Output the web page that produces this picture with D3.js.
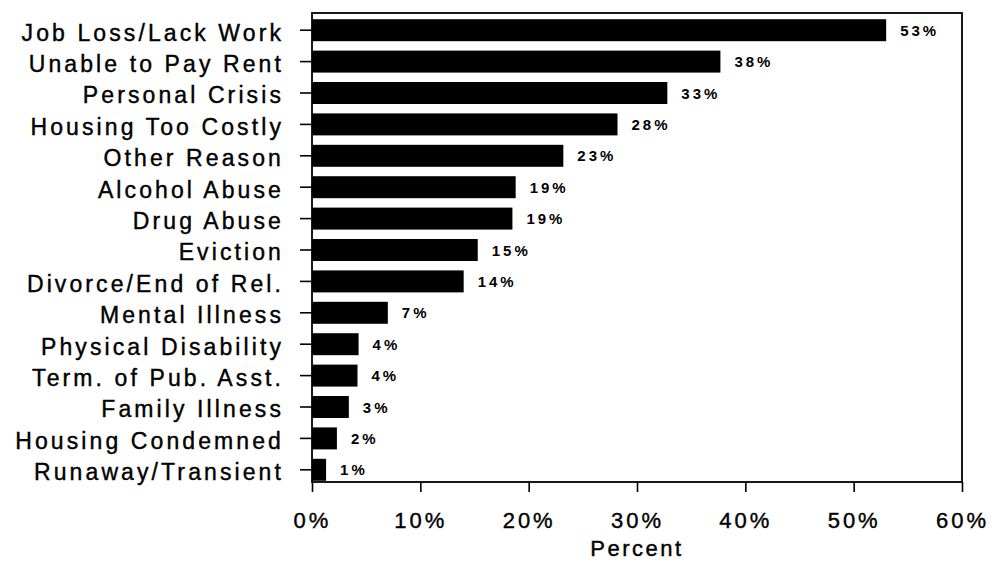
<!DOCTYPE html>
<html>
<head>
<meta charset="utf-8">
<script src="https://cdn.jsdelivr.net/npm/d3@7"></script>
<style>
  html, body { margin: 0; padding: 0; background: #fff; }
  svg { display: block; }
  text { font-family: "Liberation Sans", Arial, sans-serif; fill: #000; }
</style>
</head>
<body>
<svg id="chart" width="995" height="562"></svg>
<script>
const categories = [
  "Job Loss/Lack Work", "Unable to Pay Rent", "Personal Crisis", "Housing Too Costly",
  "Other Reason", "Alcohol Abuse", "Drug Abuse", "Eviction", "Divorce/End of Rel.",
  "Mental Illness", "Physical Disability", "Term. of Pub. Asst.", "Family Illness",
  "Housing Condemned", "Runaway/Transient"
];
const values = [53, 37.7, 32.8, 28.2, 23.2, 18.8, 18.5, 15.3, 14.0, 7.0, 4.3, 4.2, 3.4, 2.3, 1.3];
const valueLabels = ["53%", "38%", "33%", "28%", "23%", "19%", "19%", "15%", "14%", "7%", "4%", "4%", "3%", "2%", "1%"];
const xTicks = [0, 10, 20, 30, 40, 50, 60];
const xTitle = "Percent";

const svg = d3.select("#chart");
const plot = { left: 312, right: 962, top: 13, bottom: 482 };

const x = d3.scaleLinear().domain([0, 60]).range([plot.left, plot.right]);
const y = d3.scaleBand().domain(categories).range([14.5, 485.5])
  .paddingInner(0.3).paddingOuter(0.15);

// frame
svg.append("rect")
  .attr("x", plot.left).attr("y", plot.top)
  .attr("width", plot.right - plot.left).attr("height", plot.bottom - plot.top)
  .attr("fill", "none").attr("stroke", "#000").attr("stroke-width", 1.8);

// bars
svg.append("g").selectAll("rect").data(categories).join("rect")
  .attr("x", x(0))
  .attr("y", d => y(d))
  .attr("width", (d, i) => x(values[i]) - x(0))
  .attr("height", y.bandwidth())
  .attr("fill", "#000");

// value labels
svg.append("g").selectAll("text").data(categories).join("text")
  .attr("x", (d, i) => x(values[i]) + 14)
  .attr("y", d => y(d) + y.bandwidth() / 2 + 5.5)
  .attr("font-size", 15)
  .attr("font-weight", "bold")
  .attr("letter-spacing", 3)
  .text((d, i) => valueLabels[i]);

// y axis
const yAxis = d3.axisLeft(y).tickSize(12).tickPadding(16).tickSizeOuter(0);
const gy = svg.append("g").attr("transform", `translate(${plot.left},0)`).call(yAxis);
gy.select(".domain").remove();
gy.selectAll(".tick line").attr("stroke", "#000").attr("stroke-width", 1.6);
gy.selectAll(".tick text")
  .attr("font-size", 23)
  .attr("letter-spacing", 3.1)
  .attr("dy", "0.45em")
  .attr("stroke", "#000").attr("stroke-width", 0.4)
  .style("font-family", '"Liberation Sans", Arial, sans-serif');

// x axis
const xAxis = d3.axisBottom(x).tickValues(xTicks).tickFormat(d => d + "%")
  .tickSize(10).tickPadding(20).tickSizeOuter(0);
const gx = svg.append("g").attr("transform", `translate(0,${plot.bottom})`).call(xAxis);
gx.select(".domain").remove();
gx.selectAll(".tick line").attr("stroke", "#000").attr("stroke-width", 1.6);
gx.selectAll(".tick text")
  .attr("font-size", 22)
  .attr("letter-spacing", 3)
  .attr("stroke", "#000").attr("stroke-width", 0.4)
  .style("font-family", '"Liberation Sans", Arial, sans-serif');

// x title
svg.append("text")
  .attr("x", x(30)).attr("y", 556)
  .attr("text-anchor", "middle")
  .attr("font-size", 22)
  .attr("letter-spacing", 2.5)
  .attr("stroke", "#000").attr("stroke-width", 0.4)
  .text(xTitle);
</script>
</body>
</html>
